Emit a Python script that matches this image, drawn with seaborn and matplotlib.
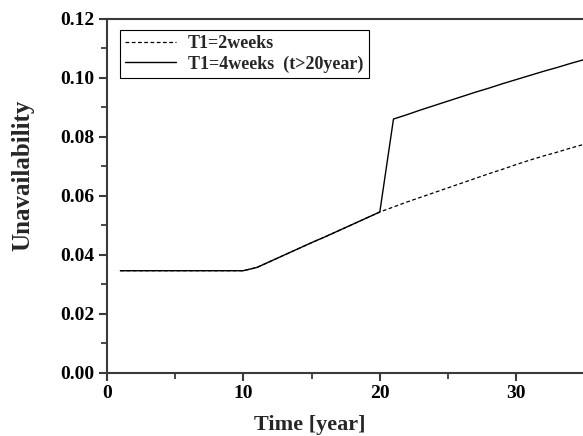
import matplotlib
matplotlib.use("Agg")
import matplotlib.pyplot as plt
import seaborn as sns
from matplotlib.ticker import MultipleLocator, FormatStrFormatter

# ----------------------------------------------------------------------
# Data
# ----------------------------------------------------------------------
years = [1, 2, 3, 4, 5, 6, 7, 8, 9, 10,
         11, 12, 13, 14, 15, 16, 17, 18, 19, 20,
         21, 22, 23, 24, 25, 26, 27, 28, 29, 30,
         31, 32, 33, 34, 35]

# T1 = 2 weeks
unavail_2w = [0.0346, 0.0346, 0.0346, 0.0346, 0.0346, 0.0346, 0.0346, 0.0346, 0.0346, 0.0346,
              0.0357, 0.0378, 0.0399, 0.0420, 0.0441, 0.0461, 0.0482, 0.0503, 0.0524, 0.0545,
              0.0562, 0.0579, 0.0595, 0.0611, 0.0627, 0.0643, 0.0659, 0.0675, 0.0690, 0.0706,
              0.0721, 0.0735, 0.0748, 0.0762, 0.0775]

# T1 = 4 weeks after year 20
unavail_4w = [0.0346, 0.0346, 0.0346, 0.0346, 0.0346, 0.0346, 0.0346, 0.0346, 0.0346, 0.0346,
              0.0357, 0.0378, 0.0399, 0.0420, 0.0441, 0.0461, 0.0482, 0.0503, 0.0524, 0.0545,
              0.0860, 0.0875, 0.0891, 0.0906, 0.0921, 0.0936, 0.0951, 0.0965, 0.0980, 0.0994,
              0.1008, 0.1022, 0.1035, 0.1049, 0.1062]

labels = ["T1=2weeks", "T1=4weeks  (t>20year)"]

# ----------------------------------------------------------------------
# Style
# ----------------------------------------------------------------------
sns.set_style("ticks")
plt.rcParams.update({
    "font.family": ["Liberation Serif", "DejaVu Serif"],
    "font.weight": "bold",
    "axes.edgecolor": "#3a3a3a",
    "axes.linewidth": 1.5,
    "xtick.color": "#3a3a3a",
    "ytick.color": "#3a3a3a",
    "xtick.labelcolor": "black",
    "ytick.labelcolor": "black",
})

fig = plt.figure(figsize=(5.83, 4.36), dpi=100)
ax = fig.add_axes([0.183, 0.145, 0.8175, 0.812])

sns.lineplot(x=years, y=unavail_2w, ax=ax, color="black", linewidth=0.9,
             linestyle=(0, (3, 2)), label=labels[0])
sns.lineplot(x=years, y=unavail_4w, ax=ax, color="black", linewidth=1.0,
             label=labels[1])

ax.set_xlim(0, 34.9)
ax.set_ylim(0, 0.12)
ax.xaxis.set_major_locator(MultipleLocator(10))
ax.xaxis.set_minor_locator(MultipleLocator(5))
ax.yaxis.set_major_locator(MultipleLocator(0.02))
ax.yaxis.set_minor_locator(MultipleLocator(0.01))
ax.yaxis.set_major_formatter(FormatStrFormatter("%.2f"))

ax.tick_params(which="major", direction="out", length=6, width=1.5, labelsize=14, pad=3)
ax.tick_params(which="minor", direction="out", length=4, width=1.3)
for lab in ax.get_xticklabels() + ax.get_yticklabels():
    lab.set_fontweight("bold")

ax.spines["right"].set_visible(False)

ax.set_xlabel("Time [year]", fontsize=16, fontweight="bold")
ax.set_ylabel("Unavailability", fontsize=18, fontweight="bold")
ax.xaxis.set_label_coords(0.4255, -0.12)
ax.yaxis.set_label_coords(-0.151, 0.557)

leg = ax.legend(loc="upper left", bbox_to_anchor=(0.027, 0.968), fontsize=13,
                frameon=True, fancybox=False, framealpha=1, edgecolor="black",
                handlelength=2.8, handletextpad=0.7, borderpad=0.3,
                labelspacing=0.15, borderaxespad=0)
leg.get_frame().set_linewidth(0.8)
for t in leg.get_texts():
    t.set_fontweight("bold")

fig.savefig("out.png", dpi=100)
